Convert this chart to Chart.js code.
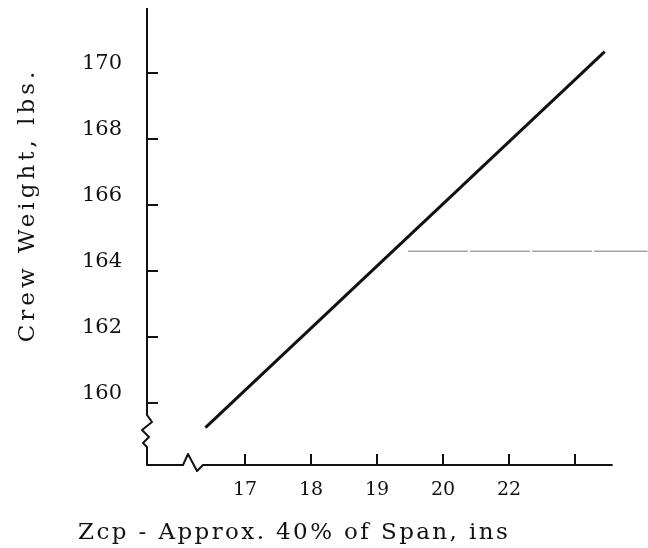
<!DOCTYPE html>
<html>
<head>
<meta charset="utf-8">
<script src="https://cdn.jsdelivr.net/npm/chart.js@4.4.1/dist/chart.umd.min.js"></script>
<style>
  html, body { margin: 0; padding: 0; background: #fff; }
  #wrap { width: 648px; height: 548px; }
</style>
</head>
<body>
<div id="wrap"><canvas id="crewChart" width="648" height="548"></canvas></div>
<script>
// tick positions on the x axis and the labels printed under them (as on the original plate)
const xTickPositions = [17, 18, 19, 20, 21, 22];
const xTickLabels = ['17', '18', '19', '20', '22', ''];
const yTickValues = [160, 162, 164, 166, 168, 170];

// crew weight line
const weightX = [16.4, 22.45];
const weightY = [159.25, 170.65];

// thin horizontal reference line
const refX = [19.47, 23.1];
const refY = [164.6, 164.6];

const xTitle = 'Zcp - Approx. 40% of Span, ins';
const yTitle = 'Crew Weight, lbs.';

const ink = '#111';
const serif = '"DejaVu Serif", "Liberation Serif", serif';

function pts(xs, ys) {
  return xs.map((x, i) => ({ x: x, y: ys[i] }));
}

// axes drawn by hand: ticks point inwards and both axes carry a break mark
const axesPlugin = {
  id: 'axes',
  afterDatasetsDraw(chart) {
    const ctx = chart.ctx;
    const xs = chart.scales.x;
    const ys = chart.scales.y;
    const L = xs.left;
    const B = ys.bottom;
    ctx.save();
    ctx.strokeStyle = ink;
    ctx.lineWidth = 2;
    ctx.lineJoin = 'round';

    // y axis with break near the bottom
    ctx.beginPath();
    ctx.moveTo(L, ys.top);
    ctx.lineTo(L, B - 50);
    ctx.lineTo(L + 5, B - 43);
    ctx.lineTo(L - 5, B - 35);
    ctx.lineTo(L + 2, B - 28);
    ctx.lineTo(L - 4, B - 22);
    ctx.lineTo(L, B - 18);
    ctx.lineTo(L, B);
    // x axis with break near the left
    ctx.lineTo(L + 36, B);
    ctx.lineTo(L + 41, B - 11);
    ctx.lineTo(L + 50, B + 6);
    ctx.lineTo(L + 56, B);
    ctx.lineTo(xs.getPixelForValue(22.57), B);
    ctx.stroke();

    // y ticks
    yTickValues.forEach(v => {
      const py = ys.getPixelForValue(v);
      ctx.beginPath();
      ctx.moveTo(L, py);
      ctx.lineTo(L + 11, py);
      ctx.stroke();
    });
    // x ticks
    xTickPositions.forEach(v => {
      const px = xs.getPixelForValue(v);
      ctx.beginPath();
      ctx.moveTo(px, B);
      ctx.lineTo(px, B - 11);
      ctx.stroke();
    });

    // axis titles
    ctx.fillStyle = ink;
    ctx.font = '23px ' + serif;
    ctx.textBaseline = 'middle';
    if ('letterSpacing' in ctx) ctx.letterSpacing = '4px';
    ctx.save();
    ctx.translate(28, 205);
    ctx.rotate(-Math.PI / 2);
    ctx.textAlign = 'center';
    ctx.fillText(yTitle, 0, 0);
    ctx.restore();

    if ('letterSpacing' in ctx) ctx.letterSpacing = '2.4px';
    ctx.textAlign = 'left';
    ctx.fillText(xTitle, 78, 533);
    ctx.restore();
  }
};

const ctx = document.getElementById('crewChart').getContext('2d');
new Chart(ctx, {
  type: 'line',
  data: {
    datasets: [
      {
        label: 'Crew weight',
        data: pts(weightX, weightY),
        borderColor: ink,
        borderWidth: 3,
        pointRadius: 0,
        fill: false,
        clip: false
      },
      {
        label: 'Reference',
        data: pts(refX, refY),
        borderColor: '#777',
        borderWidth: 1,
        borderDash: [60, 2],
        pointRadius: 0,
        fill: false,
        clip: false
      }
    ]
  },
  options: {
    responsive: false,
    animation: false,
    layout: { padding: { left: 0, top: 8, right: 0, bottom: 0 } },
    plugins: {
      legend: { display: false },
      tooltip: { enabled: false }
    },
    scales: {
      x: {
        type: 'linear',
        min: 15.515,
        max: 23.106,
        grid: { display: false, drawTicks: false },
        border: { display: false },
        afterBuildTicks(scale) {
          scale.ticks = xTickPositions.map(v => ({ value: v }));
        },
        afterFit(scale) {
          scale.height = 83;
          scale.paddingLeft = 0;
          scale.paddingRight = 0;
        },
        ticks: {
          padding: 14,
          color: ink,
          font: { family: serif, size: 19 },
          maxRotation: 0,
          autoSkip: false,
          callback: (v) => xTickLabels[xTickPositions.indexOf(v)]
        }
      },
      y: {
        type: 'linear',
        min: 158.12,
        max: 171.97,
        grid: { display: false, drawTicks: false },
        border: { display: false },
        afterBuildTicks(scale) {
          scale.ticks = yTickValues.map(v => ({ value: v }));
        },
        afterFit(scale) {
          scale.width = 147;
          scale.paddingTop = 0;
          scale.paddingBottom = 0;
        },
        ticks: {
          padding: 25,
          labelOffset: -9,
          color: ink,
          font: { family: serif, size: 21 },
          autoSkip: false,
          callback: (v) => String(v)
        }
      }
    }
  },
  plugins: [axesPlugin]
});
</script>
</body>
</html>
